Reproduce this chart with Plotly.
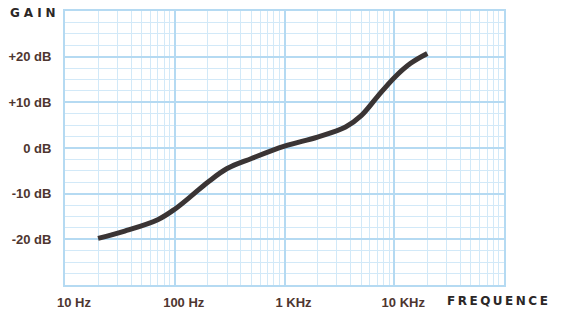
import plotly.graph_objects as go

freq_hz = [20, 35, 70, 100, 140, 200, 300, 500, 1000, 2000, 3600, 5000, 7000, 10000, 14000, 20000]
gain_db = [-19.8, -18.2, -15.7, -13.4, -10.6, -7.5, -4.5, -2.3, 0.4, 2.4, 4.6, 7.1, 11.2, 15.4, 18.5, 20.7]

x_tick_vals = [10, 100, 1000, 10000]
x_tick_text = ["10 Hz", "100 Hz", "1 KHz", "10 KHz"]
y_tick_vals = [20, 10, 0, -10, -20]
y_tick_text = ["+20 dB", "+10 dB", "0 dB", "-10 dB", "-20 dB"]

major = "#b5daf2"
minor = "#d2e9f8"
label_col = "#4e3630"

fig = go.Figure()
fig.add_trace(go.Scatter(
    x=freq_hz, y=gain_db, mode="lines",
    line=dict(color="#3a3434", width=5, shape="spline", smoothing=1.0),
    hoverinfo="skip", showlegend=False,
))

fig.update_layout(
    width=562, height=315,
    margin=dict(l=65, r=58, t=11, b=30, autoexpand=False),
    paper_bgcolor="white", plot_bgcolor="white",
    font=dict(family="Liberation Sans, Arial, sans-serif", size=13, color=label_col),
    xaxis=dict(
        type="log", range=[1, 5], automargin=False,
        tickmode="array", tickvals=x_tick_vals, ticktext=x_tick_text,
        tickfont=dict(family="Liberation Sans, Arial, sans-serif", size=13, color=label_col, weight="bold"),
        showgrid=True, gridcolor=major, gridwidth=2,
        showline=True, linecolor=major, linewidth=2, mirror=True,
        ticks="", zeroline=False,
        ticklabelshift=9, ticklabelstandoff=4,
        minor=dict(dtick="D1", showgrid=True, gridcolor=minor, gridwidth=1, ticks=""),
    ),
    yaxis=dict(
        range=[-30, 30], automargin=False,
        tickmode="array", tickvals=y_tick_vals, ticktext=y_tick_text,
        tickfont=dict(family="Liberation Sans, Arial, sans-serif", size=13, color=label_col, weight="bold"),
        showgrid=True, gridcolor=major, gridwidth=2,
        showline=True, linecolor=major, linewidth=2, mirror=True,
        ticks="", zeroline=False,
        ticklabelstandoff=9,
        minor=dict(dtick=2.5, showgrid=True, gridcolor=minor, gridwidth=1, ticks=""),
    ),
    annotations=[
        dict(text='<span style="letter-spacing:4px">GAIN</span>', xref="paper", yref="paper",
             x=-0.068, y=0.991, xanchor="center", yanchor="middle", showarrow=False,
             font=dict(family="DejaVu Sans", size=12, color="#2b2727", weight="bold")),
        dict(text='<span style="letter-spacing:2.5px">FREQUENCE</span>', xref="paper", yref="paper",
             x=0.9886, y=-0.0566, xanchor="center", yanchor="middle", showarrow=False,
             font=dict(family="DejaVu Sans", size=12, color="#2b2727", weight="bold")),
    ],
)

fig.write_html(
    "out.html",
    config={"displayModeBar": False},
    post_script="document.body.style.margin='0';document.body.style.overflow='hidden';",
)
